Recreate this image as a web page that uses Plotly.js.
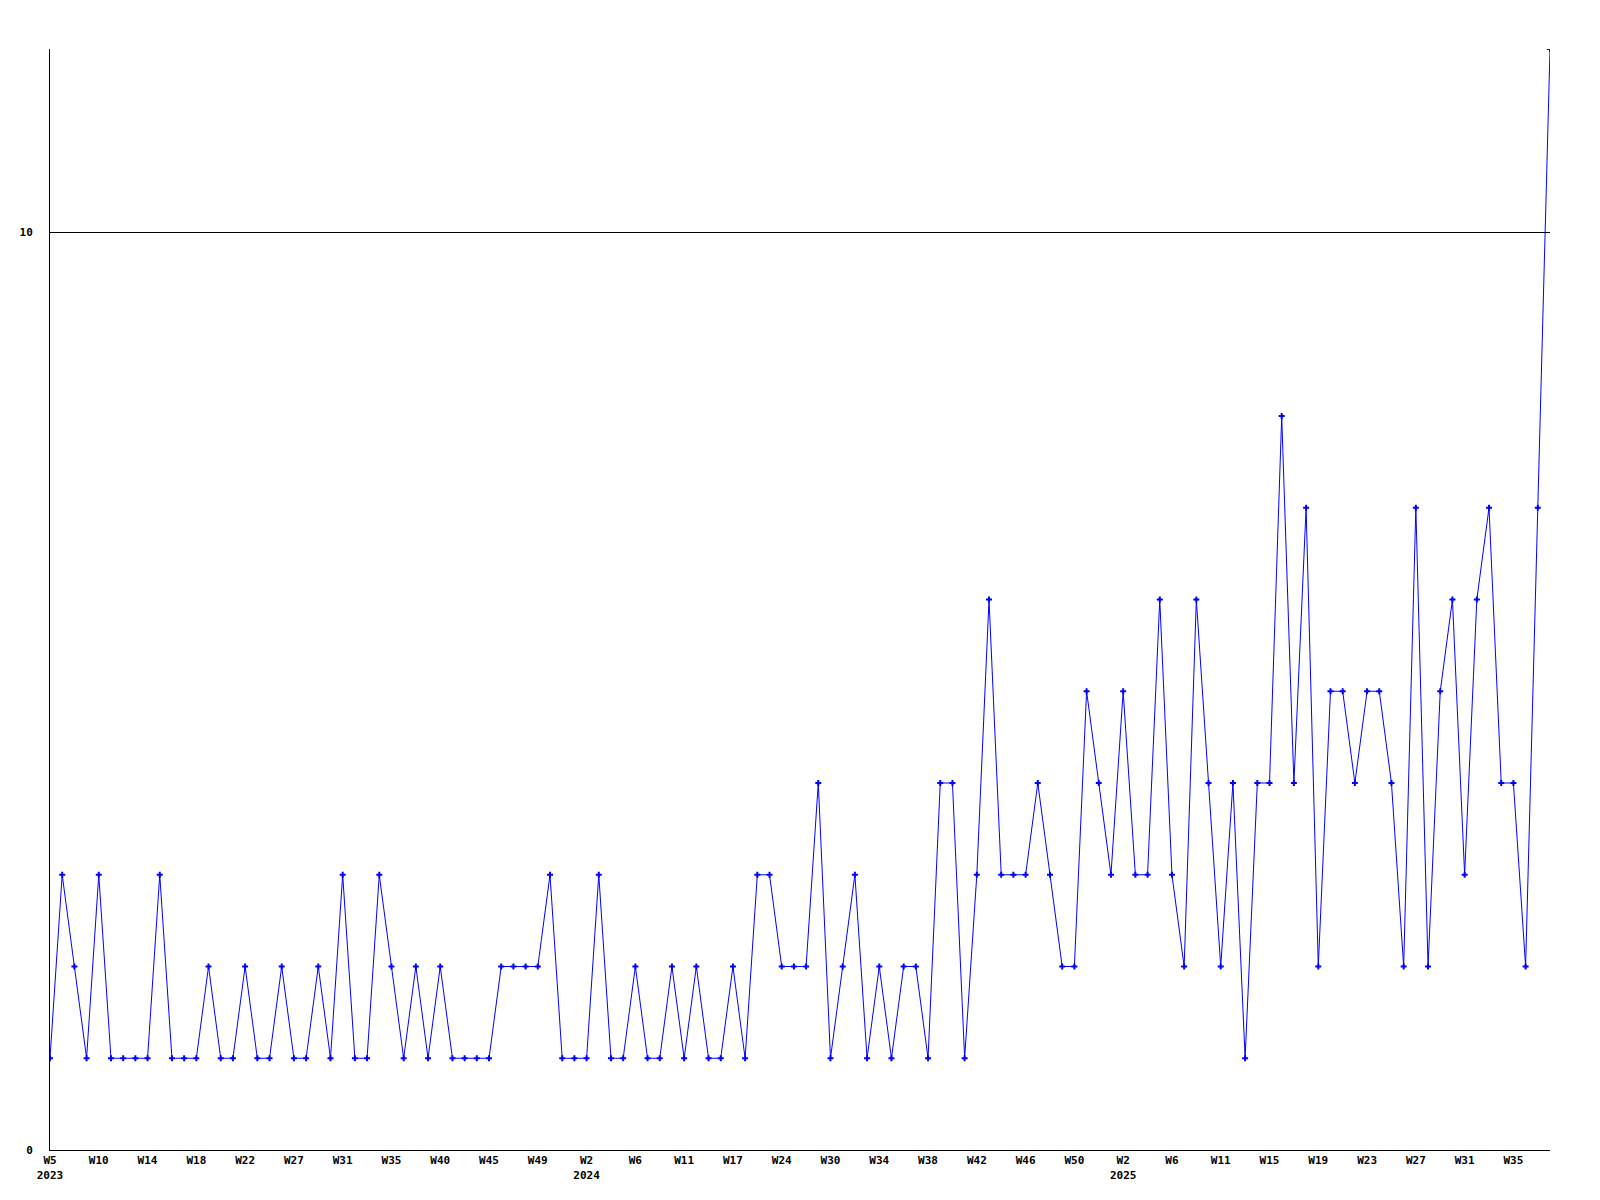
<!DOCTYPE html>
<html>
<head>
<meta charset="utf-8">
<script src="https://cdn.plot.ly/plotly-3.0.1.min.js"></script>
<style>
  html, body { margin: 0; padding: 0; background: #ffffff; }
  #chart { width: 1600px; height: 1200px; }
</style>
</head>
<body>
<div id="chart"></div>
<script>
// Weekly counts, one point per reported week (weeks without data are not plotted)
const values = [
  1,3,2,1,3,1,1,1,1,3,1,1,1,2,1,1,2,1,1,2,1,1,2,1,3,1,1,3,2,1,2,1,2,1,1,1,1,2,2,2,2,3,
  1,1,1,3,1,1,2,1,1,2,1,2,1,1,2,1,3,3,2,2,2,4,1,2,3,1,2,1,2,2,1,4,4,1,3,6,3,3,3,4,3,
  2,2,5,4,3,5,3,3,6,3,2,6,4,2,4,1,4,4,8,4,7,
  2,5,5,4,5,5,4,2,7,2,5,6,3,6,7,4,4,2,7,12
];

// Tick labels shown under every 4th point
const tickWeeks = [
  "W5","W10","W14","W18","W22","W27","W31","W35","W40","W45","W49",
  "W2","W6","W11","W17","W24","W30","W34","W38","W42","W46","W50",
  "W2","W6","W11","W15","W19","W23","W27","W31","W35"
];
const tickYears = [
  "2023","","","","","","","","","","",
  "2024","","","","","","","","","","",
  "2025","","","","","","","",""
];
const tickEvery = 4;

const yTickVals = [0, 10];
const yMax = 12;

const xs = values.map((v, i) => i);
const tickVals = tickWeeks.map((w, i) => i * tickEvery);
const tickText = tickWeeks.map((w, i) => tickYears[i] ? w + "<br>" + tickYears[i] : w);

const font = { family: "DejaVu Sans Mono, monospace", size: 11, color: "#000000", weight: "bold" };

const trace = {
  type: "scatter",
  mode: "lines+markers",
  x: xs,
  y: values,
  line: { color: "#0000ff", width: 1 },
  marker: { color: "#0000ff", symbol: "cross", size: 5, line: { width: 0 } },
  hoverinfo: "skip",
  showlegend: false
};

const layout = {
  width: 1600,
  height: 1200,
  paper_bgcolor: "#ffffff",
  plot_bgcolor: "#ffffff",
  margin: { l: 50, r: 50, t: 49, b: 50, pad: 0 },
  showlegend: false,
  xaxis: {
    range: [0, values.length - 1],
    tickmode: "array",
    tickvals: tickVals,
    ticktext: tickText,
    tickfont: font,
    showgrid: false,
    zeroline: false,
    showline: true,
    linecolor: "#000000",
    linewidth: 1,
    ticks: "",
    ticklabelstandoff: 0
  },
  yaxis: {
    range: [0, yMax],
    tickmode: "array",
    tickvals: yTickVals,
    ticktext: yTickVals.map(String),
    tickfont: font,
    showgrid: true,
    gridcolor: "#000000",
    gridwidth: 1,
    zeroline: false,
    showline: true,
    linecolor: "#000000",
    linewidth: 1,
    ticks: "",
    ticklabelstandoff: 14
  }
};

Plotly.newPlot("chart", [trace], layout, { displayModeBar: false, staticPlot: true });
</script>
</body>
</html>
